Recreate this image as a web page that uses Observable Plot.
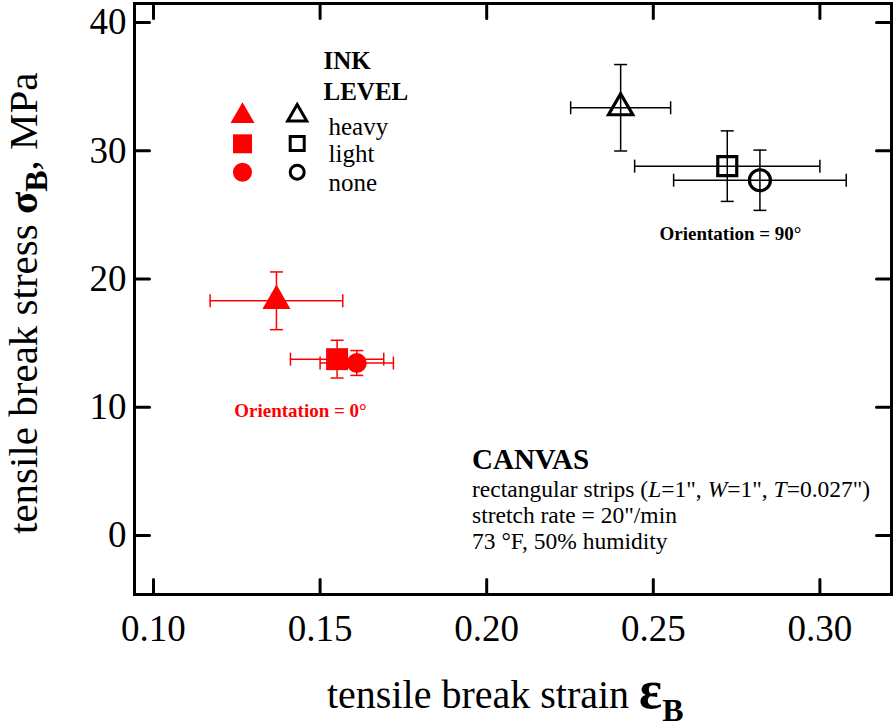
<!DOCTYPE html>
<html><head><meta charset="utf-8">
<script src="https://cdn.jsdelivr.net/npm/d3@7"></script>
<script src="https://cdn.jsdelivr.net/npm/@observablehq/plot@0.6"></script>
<style>html,body{margin:0;padding:0;background:#fff;} #chart{width:896px;height:728px;}</style>
</head><body><div id="chart"></div>
<script>
// ---- data ----
const inkLevels = ["heavy", "light", "none"];
const strain0 = [0.1369, 0.1551, 0.1610];
const strain0Err = [0.0199, 0.0140, 0.0110];
const stress0 = [18.3, 13.75, 13.45];
const stress0Err = [2.25, 1.47, 0.97];
const strain90 = [0.2402, 0.2722, 0.2820];
const strain90Err = [0.0150, 0.0278, 0.0259];
const stress90 = [33.35, 28.8, 27.7];
const stress90Err = [3.37, 2.75, 2.35];
const xTicks = [0.10, 0.15, 0.20, 0.25, 0.30];
const yTicks = [0, 10, 20, 30, 40];
const orientationLabels = ["Orientation = 0°", "Orientation = 90°"];
const legendTitle = "INK\nLEVEL";

// ---- build tables ----
const rows0 = inkLevels.map((level, i) => ({level, strain: strain0[i], strainErr: strain0Err[i], stress: stress0[i], stressErr: stress0Err[i]}));
const rows90 = inkLevels.map((level, i) => ({level, strain: strain90[i], strainErr: strain90Err[i], stress: stress90[i], stressErr: stress90Err[i]}));

// ---- styles ----
const RED = "#ff0000";
const FF = "Liberation Serif";
const symbolOf = {heavy: "triangle", light: "square", none: "circle"};
const rFilled = {heavy: 10.4, light: 12.4, none: 10};
const rOpen = {heavy: 9, light: 10.7, none: 10.5};
const rLegFilled = {heavy: 8.9, light: 10.7, none: 9.5};
const rLegOpen = {heavy: 7.1, light: 7.9, none: 7};
const legDy = {heavy: [112.5, 112, 114], light: [140.3, 140, 140.7], none: [168.7, 168.7, 169.7]};

const tickShape = {draw(ctx, l) { ctx.moveTo(0, 0); ctx.lineTo(0, -l); }};
const vcap = {draw(ctx) { ctx.moveTo(0, -6.5); ctx.lineTo(0, 6.5); }};
const hcap = {draw(ctx) { ctx.moveTo(-6.5, 0); ctx.lineTo(6.5, 0); }};

function errorMarks(rows, color) {
  return [
    Plot.ruleY(rows, {y: "stress", x1: d => d.strain - d.strainErr, x2: d => d.strain + d.strainErr, stroke: color, strokeWidth: 1.5}),
    Plot.ruleX(rows, {x: "strain", y1: d => d.stress - d.stressErr, y2: d => d.stress + d.stressErr, stroke: color, strokeWidth: 1.5}),
    Plot.dot(rows, {x: d => d.strain - d.strainErr, y: "stress", symbol: vcap, fill: "none", stroke: color, strokeWidth: 1.5}),
    Plot.dot(rows, {x: d => d.strain + d.strainErr, y: "stress", symbol: vcap, fill: "none", stroke: color, strokeWidth: 1.5}),
    Plot.dot(rows, {x: "strain", y: d => d.stress - d.stressErr, symbol: hcap, fill: "none", stroke: color, strokeWidth: 1.5}),
    Plot.dot(rows, {x: "strain", y: d => d.stress + d.stressErr, symbol: hcap, fill: "none", stroke: color, strokeWidth: 1.5})
  ];
}

const plot = Plot.plot({
  width: 896, height: 728,
  marginLeft: 134, marginRight: 5, marginTop: 3, marginBottom: 134,
  x: {domain: [0.094298, 0.32149], label: null},
  y: {domain: [-4.60, 41.48], label: null},
  style: {fontFamily: FF, background: "white", color: "black", overflow: "visible"},
  marks: [
    // inward ticks on all four sides
    Plot.vector(xTicks, {x: d => d, frameAnchor: "bottom", length: 15, rotate: 0, anchor: "start", shape: tickShape, stroke: "black", strokeWidth: 3}),
    Plot.vector(xTicks, {x: d => d, frameAnchor: "top", length: 15, rotate: 180, anchor: "start", shape: tickShape, stroke: "black", strokeWidth: 3}),
    Plot.vector(yTicks, {y: d => d, frameAnchor: "left", length: 15, rotate: 90, anchor: "start", shape: tickShape, stroke: "black", strokeWidth: 3}),
    Plot.vector(yTicks, {y: d => d, frameAnchor: "right", length: 15, rotate: -90, anchor: "start", shape: tickShape, stroke: "black", strokeWidth: 3}),
    Plot.frame({stroke: "black", strokeWidth: 3}),
    Plot.axisX({ticks: xTicks, tickSize: 0, tickPadding: 20, tickFormat: d3.format(".2f"), fontSize: 37, fontFamily: FF, fill: "black", label: null}),
    Plot.axisY({ticks: yTicks, tickSize: 0, tickPadding: 8, tickFormat: d3.format("d"), fontSize: 37, fontFamily: FF, fill: "black", label: null}),

    // error bars
    ...errorMarks(rows0, RED),
    ...errorMarks(rows90, "black"),

    // markers
    ...inkLevels.map(lv => Plot.dot(rows0, {filter: d => d.level === lv, x: "strain", y: "stress", symbol: symbolOf[lv], r: rFilled[lv], fill: RED, stroke: "none"})),
    ...inkLevels.map(lv => Plot.dot(rows90, {filter: d => d.level === lv, x: "strain", y: "stress", symbol: symbolOf[lv], r: rOpen[lv], fill: "none", stroke: "black", strokeWidth: 3.2})),

    // annotations
    Plot.text([orientationLabels[0]], {text: d => d, frameAnchor: "top-left", dx: 166, dy: 400, textAnchor: "middle", fontSize: 19, fontFamily: FF, fontWeight: "bold", fill: RED}),
    Plot.text([orientationLabels[1]], {text: d => d, frameAnchor: "top-left", dx: 596, dy: 222.5, textAnchor: "middle", fontSize: 19, fontFamily: FF, fontWeight: "bold", fill: "black"}),

    // legend
    Plot.text([legendTitle], {text: d => d, frameAnchor: "top-left", dx: 189, dy: 43.5, lineAnchor: "top", textAnchor: "start", fontSize: 25, fontFamily: FF, fontWeight: "bold", lineHeight: 1.24, fill: "black"}),
    ...inkLevels.map(lv => Plot.dot([lv], {frameAnchor: "top-left", dx: 108, dy: legDy[lv][0], symbol: symbolOf[lv], r: rLegFilled[lv], fill: RED, stroke: "none"})),
    ...inkLevels.map(lv => Plot.dot([lv], {frameAnchor: "top-left", dx: 162.7, dy: legDy[lv][1], symbol: symbolOf[lv], r: rLegOpen[lv], fill: "none", stroke: "black", strokeWidth: 3})),
    ...inkLevels.map(lv => Plot.text([lv], {text: d => d, frameAnchor: "top-left", dx: 194, dy: legDy[lv][2], textAnchor: "start", fontSize: 25, fontFamily: FF, fill: "black"}))
  ]
});

document.getElementById("chart").appendChild(plot);

// ---- axis titles and info block (rich text) ----
const svg = d3.select(plot);

const xl = svg.append("text").attr("x", 327).attr("y", 708).attr("text-anchor", "start").attr("font-family", FF).attr("font-size", 40).attr("fill", "black");
xl.append("tspan").text("tensile break strain ");
xl.append("tspan").attr("font-weight", "bold").attr("font-size", 54).text("ε");
xl.append("tspan").attr("font-weight", "bold").attr("font-size", 32).attr("dy", 13).text("B");

const yl = svg.append("text").attr("transform", "translate(37,534) rotate(-90)").attr("text-anchor", "start").attr("font-family", FF).attr("font-size", 41).attr("fill", "black");
yl.append("tspan").text("tensile break stress ");
yl.append("tspan").attr("font-weight", "bold").attr("font-size", 41).text("σ");
yl.append("tspan").attr("font-weight", "bold").attr("font-size", 32).attr("dy", 10).text("B");
yl.append("tspan").attr("dy", -10).text(", MPa");

const info = svg.append("g").attr("font-family", FF).attr("fill", "black").attr("text-anchor", "start");
info.append("text").attr("x", 472).attr("y", 469).attr("font-size", 29).attr("font-weight", "bold").text("CANVAS");
const l2 = info.append("text").attr("x", 472).attr("y", 497).attr("font-size", 23.5);
[["rectangular strips (", false], ["L", true], ["=1\", ", false], ["W", true], ["=1\", ", false], ["T", true], ["=0.027\")", false]]
  .forEach(([t, it]) => { const s = l2.append("tspan").text(t); if (it) s.attr("font-style", "italic"); });
info.append("text").attr("x", 472).attr("y", 523).attr("font-size", 23.5).text("stretch rate = 20\"/min");
info.append("text").attr("x", 472).attr("y", 549).attr("font-size", 23.5).text("73 °F, 50% humidity");
</script>
</body></html>
